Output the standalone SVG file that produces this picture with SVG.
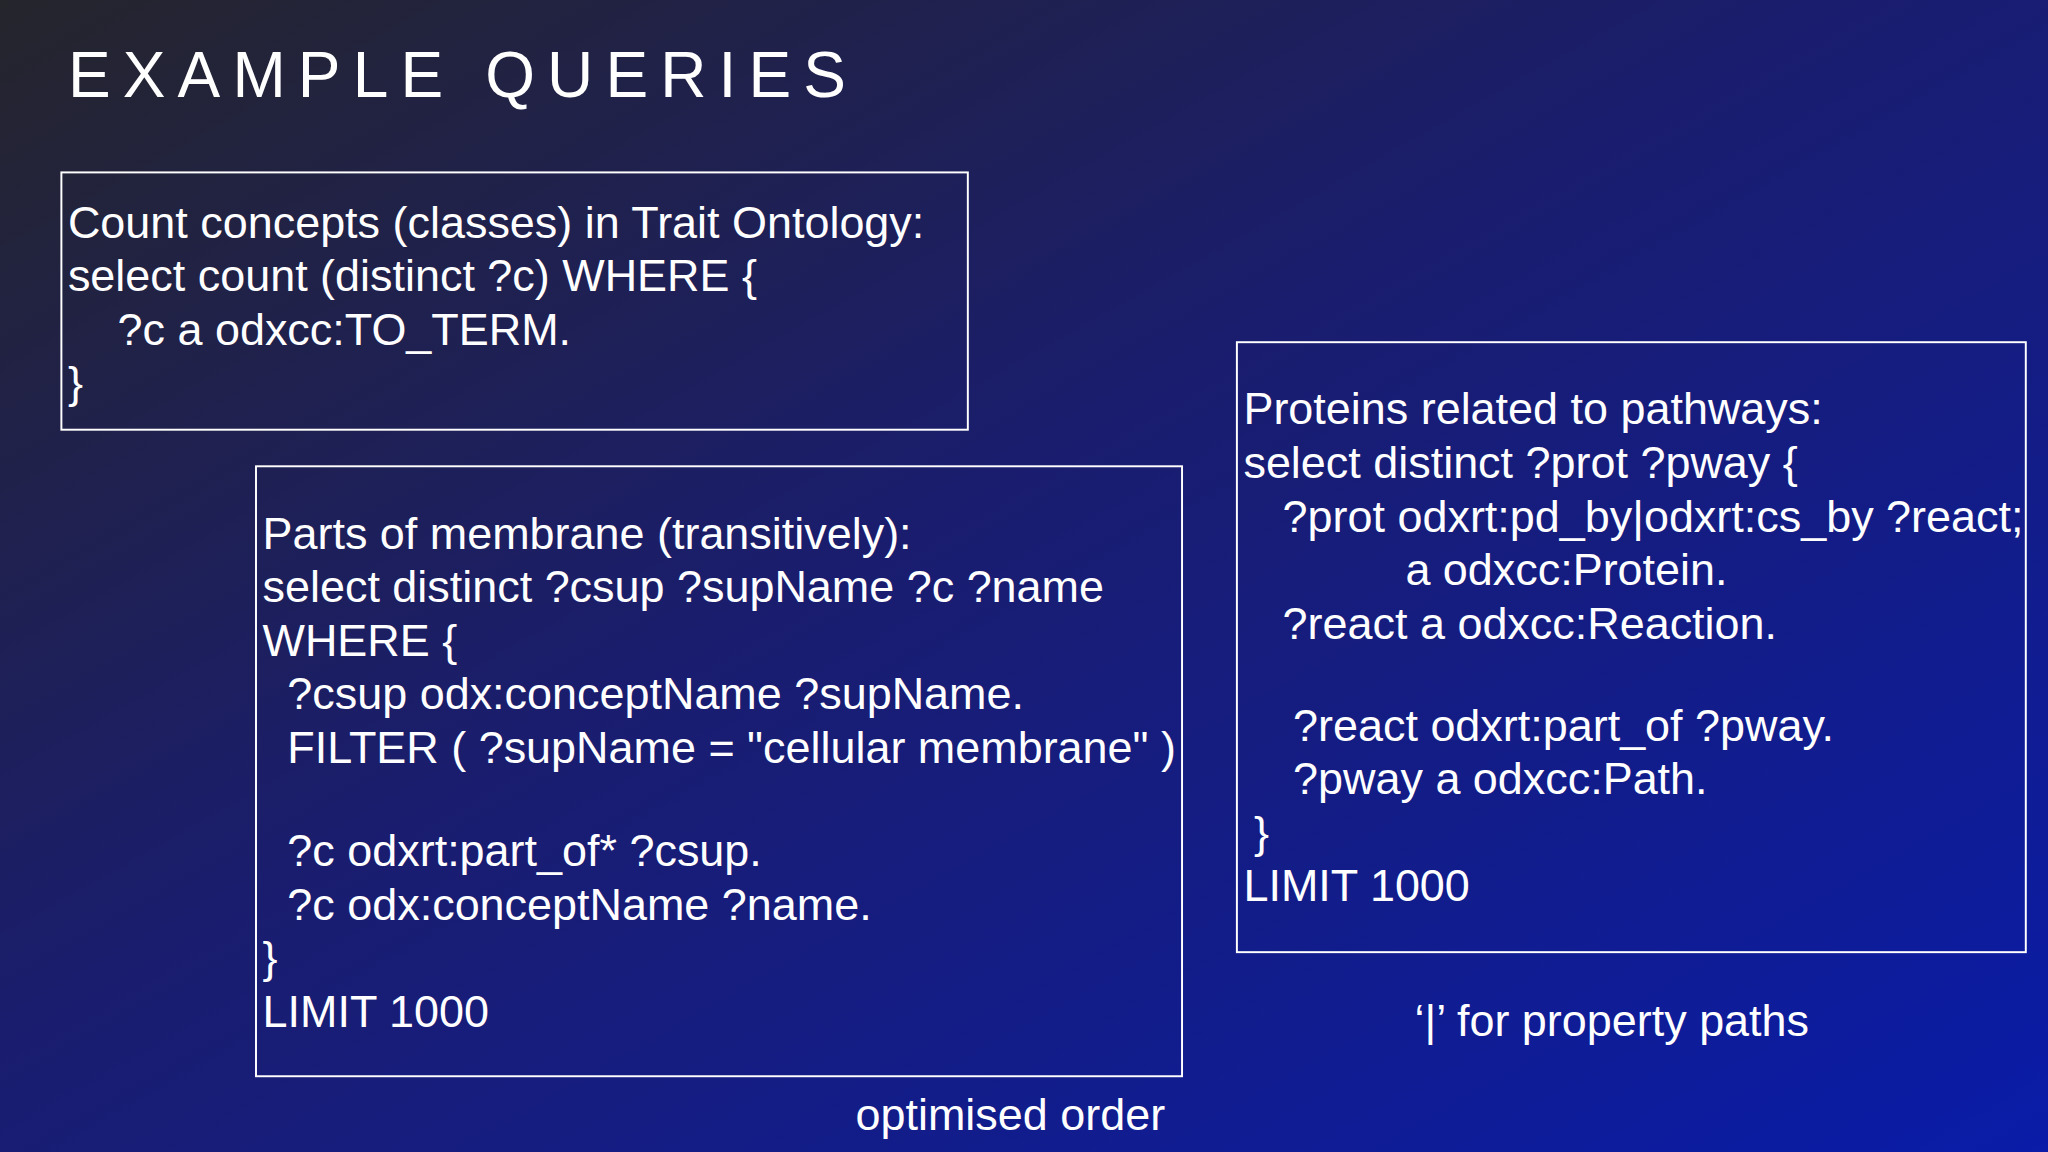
<svg xmlns="http://www.w3.org/2000/svg" width="2048" height="1152" viewBox="0 0 2048 1152">
<defs>
<linearGradient id="bg" x1="0" y1="0" x2="1" y2="1">
<stop offset="0" stop-color="#25252c"/>
<stop offset="0.45" stop-color="#1a1d6e"/>
<stop offset="1" stop-color="#0a1ca8"/>
</linearGradient>
<style>
.t{font-family:"Liberation Sans",Arial,sans-serif;font-size:34.4px;fill:#fff}
.b{fill:none;stroke:#fff;stroke-width:1.5}
</style>
</defs>
<rect width="2048" height="1152" fill="url(#bg)"/>
<g transform="scale(1.30612)">
<text class="t" x="52" y="74" style="font-size:49px;letter-spacing:9.3px">EXAMPLE QUERIES</text>
<g id="box1">
<rect class="b" x="47" y="132" width="694" height="197"/>
<text class="t" x="52" y="182">Count concepts (classes) in Trait Ontology:</text>
<text class="t" x="52" y="223">select count (distinct ?c) WHERE {</text>
<text class="t" x="90" y="264">?c a odxcc:TO_TERM.</text>
<text class="t" x="52" y="305">}</text>
</g>
<g id="box2">
<rect class="b" x="196" y="357" width="709" height="467"/>
<text class="t" x="201" y="420">Parts of membrane (transitively):</text>
<text class="t" x="201" y="461">select distinct ?csup ?supName ?c ?name</text>
<text class="t" x="201" y="502">WHERE {</text>
<text class="t" x="220" y="543">?csup odx:conceptName ?supName.</text>
<text class="t" x="220" y="584">FILTER ( ?supName = "cellular membrane" )</text>
<text class="t" x="220" y="663">?c odxrt:part_of* ?csup.</text>
<text class="t" x="220" y="704">?c odx:conceptName ?name.</text>
<text class="t" x="201" y="745">}</text>
<text class="t" x="201" y="786">LIMIT 1000</text>
</g>
<g id="box3">
<rect class="b" x="947" y="262" width="604" height="467"/>
<text class="t" x="952" y="325">Proteins related to pathways:</text>
<text class="t" x="952" y="366">select distinct ?prot ?pway {</text>
<text class="t" x="982" y="407">?prot odxrt:pd_by|odxrt:cs_by ?react;</text>
<text class="t" x="1076" y="448">a odxcc:Protein.</text>
<text class="t" x="982" y="489">?react a odxcc:Reaction.</text>
<text class="t" x="990" y="567">?react odxrt:part_of ?pway.</text>
<text class="t" x="990" y="608">?pway a odxcc:Path.</text>
<text class="t" x="960" y="649">}</text>
<text class="t" x="952" y="690">LIMIT 1000</text>
</g>
<text class="t" x="1083" y="793">‘|’ for property paths</text>
<text class="t" x="655" y="865">optimised order</text>
</g>
</svg>
